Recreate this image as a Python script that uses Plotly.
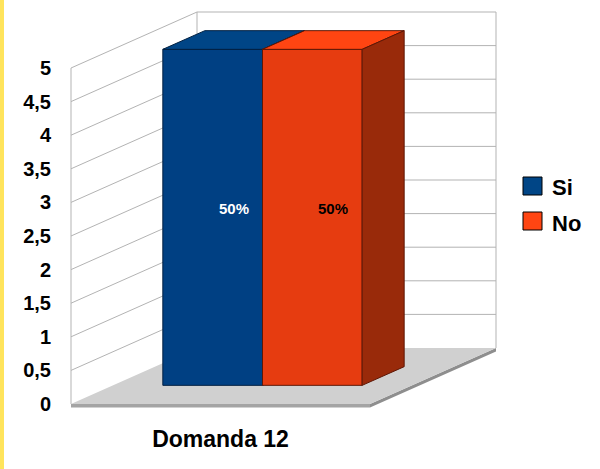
import plotly.graph_objects as go

# ---- data -------------------------------------------------------------
categories = ["Domanda 12"]
series_names = ["Si", "No"]
series_values = [[5], [5]]
y_ticks = [0, 0.5, 1, 1.5, 2, 2.5, 3, 3.5, 4, 4.5, 5]

# ---- styling ----------------------------------------------------------
FRONT_COLORS = ["#004083", "#E63C10"]
TOP_COLORS = ["#004586", "#FF4512"]
SIDE_COLORS = ["#00254D", "#992A0A"]
EDGE_COLORS = ["#001F40", "#5E1705"]
LABEL_COLORS = ["white", "black"]
FONT = "Liberation Sans, Arial, sans-serif"

W, H = 600, 469
L, R, T, B = 60, 600, 0, 420          # plot area in pixels
X0_PX, X_SCALE = 71, 299              # front plane: category axis origin / px per category
V0_PX, V_SCALE = 404, 67.2            # value axis origin / px per unit
DEPTH_PX = (126, -56)                 # screen offset of the full wall depth

DX = DEPTH_PX[0] / X_SCALE
DV = -DEPTH_PX[1] / V_SCALE
v_max = max(y_ticks)
n_cat = len(categories)


def P(x, v, d):
    """Oblique projection of (category x, value v, depth d) into axis units."""
    return x + d * DX, v + d * DV


def poly(points):
    xs, ys = zip(*[P(*p) for p in points])
    return list(xs) + [xs[0]], list(ys) + [ys[0]]


def px_paper(px, py):
    return (px - L) / (R - L), (B - py) / (B - T)


fig = go.Figure()
shapes = []


def add_poly_shape(points, fill, line_color="rgba(0,0,0,0)", width=0):
    xs, ys = poly(points)
    path = "M " + " L ".join(f"{a},{b}" for a, b in zip(xs, ys)) + " Z"
    shapes.append(dict(type="path", path=path, xref="x", yref="y",
                       fillcolor=fill, line=dict(color=line_color, width=width),
                       layer="below"))


def add_line(p1, p2, color="#B3B3B3", width=1):
    (x1, y1), (x2, y2) = P(*p1), P(*p2)
    shapes.append(dict(type="line", x0=x1, y0=y1, x1=x2, y1=y2, xref="x", yref="y",
                       line=dict(color=color, width=width), layer="below"))


# walls
add_poly_shape([(0, 0, 1), (n_cat, 0, 1), (n_cat, v_max, 1), (0, v_max, 1)], "white")
add_poly_shape([(0, 0, 0), (0, 0, 1), (0, v_max, 1), (0, v_max, 0)], "white")
for v in y_ticks[1:]:
    add_line((0, v, 0), (0, v, 1))
    add_line((0, v, 1), (n_cat, v, 1))
add_line((0, 0, 0), (0, v_max, 0))
add_line((0, 0, 1), (0, v_max, 1))
add_line((n_cat, 0, 1), (n_cat, v_max, 1))

# floor slab
t = 3.5 / V_SCALE
add_poly_shape([(0, 0, 0), (n_cat, 0, 0), (n_cat, -t, 0), (0, -t, 0)], "#A4A4A4")
add_poly_shape([(n_cat, 0, 0), (n_cat, 0, 1), (n_cat, -t, 1), (n_cat, -t, 0)], "#8E8E8E")
add_poly_shape([(0, 0, 0), (n_cat, 0, 0), (n_cat, 0, 1), (0, 0, 1)], "#D0D0D0")

# bars
n_ser = len(series_names)
gap = 1.0
w = 1.0 / (n_ser + gap)
d0, d1 = 1 / 3, 2 / 3
annotations = []
for ci in range(n_cat):
    total = sum(s[ci] for s in series_values)
    left = ci + gap * w / 2
    for si, name in enumerate(series_names):
        v = series_values[si][ci]
        xa, xb = left + si * w, left + (si + 1) * w
        faces = [
            ([(xa, 0, d0), (xb, 0, d0), (xb, v, d0), (xa, v, d0)], FRONT_COLORS[si]),
            ([(xa, v, d0), (xb, v, d0), (xb, v, d1), (xa, v, d1)], TOP_COLORS[si]),
            ([(xb, 0, d0), (xb, 0, d1), (xb, v, d1), (xb, v, d0)], SIDE_COLORS[si]),
        ]
        for pts, col in faces:
            xs, ys = poly(pts)
            fig.add_trace(go.Scatter(
                x=xs, y=ys, mode="lines", fill="toself", fillcolor=col,
                line=dict(color=EDGE_COLORS[si], width=1),
                hoverinfo="skip", showlegend=False, name=name))
        lx, ly = P((xa + xb) / 2, v / 2, 0.5)
        annotations.append(dict(
            x=lx, y=ly, xref="x", yref="y", showarrow=False,
            text=f"{round(100 * v / total)}%",
            font=dict(family=FONT, size=15, color=LABEL_COLORS[si], weight="bold")))

# legend
LEG_X, LEG_Y0, LEG_STEP, SQ = 523, 177, 35, 18
for si, name in enumerate(series_names):
    top = LEG_Y0 + si * LEG_STEP
    x0p, y0p = px_paper(LEG_X, top + SQ)
    x1p, y1p = px_paper(LEG_X + SQ + 1, top)
    shapes.append(dict(type="rect", xref="paper", yref="paper",
                       x0=x0p, y0=y0p, x1=x1p, y1=y1p,
                       fillcolor=TOP_COLORS[si], line=dict(color="black", width=1)))
    tx, ty = px_paper(LEG_X + SQ + 9, top + SQ / 2 + 2)
    annotations.append(dict(
        x=tx, y=ty, xref="paper", yref="paper", xanchor="left", yanchor="middle",
        showarrow=False, text=name,
        font=dict(family=FONT, size=22, color="black", weight="bold")))

# left accent stripe
sx0, _ = px_paper(0, 0)
sx1, _ = px_paper(4, 0)
shapes.append(dict(type="rect", xref="paper", yref="paper",
                   x0=sx0, x1=sx1, y0=px_paper(0, H)[1], y1=px_paper(0, 0)[1],
                   fillcolor="#FFE45C", line=dict(width=0)))

fig.update_layout(
    width=W, height=H,
    margin=dict(l=L, r=W - R, t=T, b=H - B),
    paper_bgcolor="white", plot_bgcolor="white",
    separators=",.",
    showlegend=False,
    shapes=shapes,
    annotations=annotations,
    xaxis=dict(range=[(L - X0_PX) / X_SCALE, (R - X0_PX) / X_SCALE],
               tickvals=[i + 0.5 for i in range(n_cat)], ticktext=categories,
               showgrid=False, zeroline=False, showline=False, ticks="",
               ticklabelstandoff=3,
               tickfont=dict(family=FONT, size=23, color="black", weight="bold")),
    yaxis=dict(range=[(V0_PX - B) / V_SCALE, (V0_PX - T) / V_SCALE],
               tickvals=y_ticks,
               showgrid=False, zeroline=False, showline=False, ticks="",
               ticklabelstandoff=8,
               tickfont=dict(family=FONT, size=20, color="black", weight="bold")),
)

fig.write_html("out.html")
